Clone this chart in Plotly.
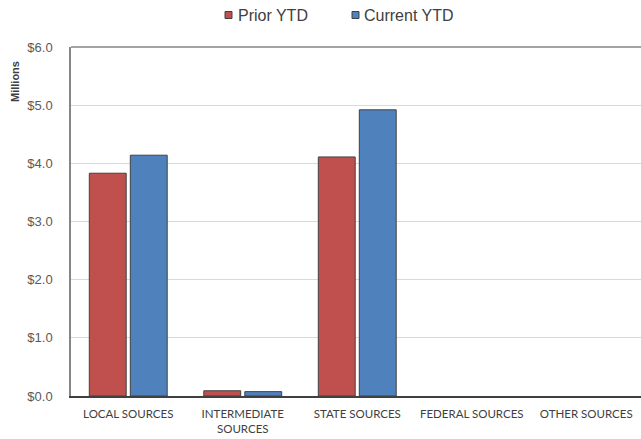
import plotly.graph_objects as go

categories = ["LOCAL SOURCES", "INTERMEDIATE<br>SOURCES", "STATE SOURCES", "FEDERAL SOURCES", "OTHER SOURCES"]
prior_ytd = [3.83, 0.09, 4.11, 0.0, 0.0]
current_ytd = [4.14, 0.075, 4.92, 0.0, 0.0]
series_names = ["Prior YTD", "Current YTD"]
series_colors = ["#C0504D", "#4F81BD"]
y_ticks = [0, 1, 2, 3, 4, 5, 6]
y_tick_labels = ["$0.0", "$1.0", "$2.0", "$3.0", "$4.0", "$5.0", "$6.0"]

W, H = 641, 439
L, R, T, B = 71, 0, 47, 43
pw = W - L - R
ph = H - T - B

def px_x(px):
    return (px - L) / pw

def px_y(py):
    return (H - B - py) / ph

fig = go.Figure()
for name, vals, col in zip(series_names, [prior_ytd, current_ytd], series_colors):
    fig.add_trace(go.Bar(
        x=categories, y=vals, name=name,
        marker=dict(color=col, line=dict(color="#404040",
                                         width=[1 if v > 0 else 0 for v in vals])),
        showlegend=False,
    ))

shapes = []
annotations = []
# custom legend
leg_sq_x = [225, 352]
leg_tx_x = [236, 362]
for i, name in enumerate(series_names):
    shapes.append(dict(type="rect", xref="paper", yref="paper",
                       x0=px_x(leg_sq_x[i]), x1=px_x(leg_sq_x[i] + 7),
                       y0=px_y(18.5), y1=px_y(11.5),
                       fillcolor=series_colors[i], line=dict(color="#404040", width=1)))
    annotations.append(dict(text=name, xref="paper", yref="paper",
                            x=px_x(leg_tx_x[i]), y=px_y(15.5), xanchor="left", yanchor="middle",
                            showarrow=False,
                            font=dict(family="Liberation Sans, Arial", size=16, color="#404040")))
# top border
shapes.append(dict(type="line", xref="paper", yref="paper", x0=0, x1=1, y0=1, y1=1,
                   line=dict(color="#868686", width=1.5)))
annotations.append(dict(text="<b>Millions</b>", xref="paper", yref="paper",
                        x=px_x(15), y=px_y(82), textangle=-90, showarrow=False,
                        xanchor="center", yanchor="middle",
                        font=dict(family="Liberation Sans, Arial", size=11, color="#404040")))

fig.update_layout(
    width=W, height=H,
    margin=dict(l=L, r=R, t=T, b=B, pad=0),
    paper_bgcolor="white", plot_bgcolor="white",
    barmode="group", bargap=0.284, bargroupgap=0.1,
    shapes=shapes, annotations=annotations,
    showlegend=False,
)
fig.update_xaxes(
    type="category", range=[-0.5, -0.5 + pw / 114.5],
    showline=True, linecolor="#404040", linewidth=2,
    showgrid=False, ticks="", ticklabelstandoff=6,
    tickfont=dict(family="Lato", size=11.5, color="#404040"),
)
fig.update_yaxes(
    range=[0, 6], tickmode="array", tickvals=y_ticks, ticktext=y_tick_labels,
    showline=True, linecolor="#868686", linewidth=1.5,
    showgrid=True, gridcolor="#D9D9D9", gridwidth=1,
    zeroline=False, ticks="", ticklabelstandoff=14,
    tickfont=dict(family="Liberation Sans, Arial", size=13, color="#595959"),
)

fig.write_html("out.html")
